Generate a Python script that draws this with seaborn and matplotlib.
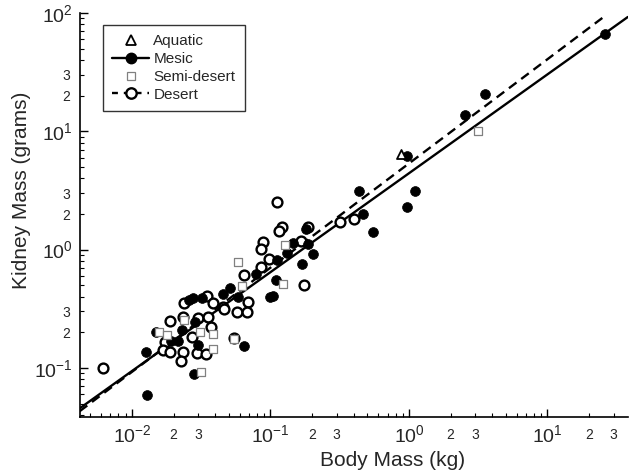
import numpy as np
import pandas as pd
import matplotlib
matplotlib.use("Agg")
import matplotlib.pyplot as plt
from matplotlib.lines import Line2D
from matplotlib import ticker
import seaborn as sns

# body mass (kg) / kidney mass (g)
mesic_body = [26.0, 3.54, 2.54, 0.962, 0.436, 1.10, 0.973, 0.468, 0.552,
              0.0126, 0.0128, 0.0148, 0.0644, 0.0301, 0.0260, 0.0274, 0.0318,
              0.0452, 0.0511, 0.0586, 0.0782, 0.0991, 0.1038, 0.110, 0.168,
              0.202, 0.146, 0.111, 0.131, 0.180, 0.187, 0.0285, 0.0229,
              0.0191, 0.0216, 0.0281]
mesic_kidney = [66.1, 20.7, 13.8, 6.22, 3.15, 3.15, 2.31, 1.99, 1.42,
                0.136, 0.0596, 0.201, 0.154, 0.156, 0.375, 0.388, 0.388,
                0.419, 0.471, 0.400, 0.618, 0.400, 0.405, 0.553, 0.751,
                0.912, 1.14, 0.817, 0.931, 1.48, 1.11, 0.246, 0.209,
                0.169, 0.170, 0.0888]

desert_body = [0.00614, 0.111, 0.1205, 0.115, 0.0887, 0.0849, 0.165, 0.187,
               0.0975, 0.0853, 0.0644, 0.175, 0.0346, 0.0239, 0.0386, 0.0452,
               0.0463, 0.0692, 0.0575, 0.0673, 0.0232, 0.0188, 0.0301, 0.0356,
               0.0372, 0.0270, 0.0173, 0.0168, 0.0188, 0.0232, 0.0225, 0.0293,
               0.0342, 0.0544, 0.401, 0.318]
desert_kidney = [0.1007, 2.54, 1.56, 1.44, 1.17, 1.01, 1.18, 1.54,
                 0.828, 0.717, 0.607, 0.502, 0.405, 0.356, 0.356, 0.329,
                 0.313, 0.363, 0.299, 0.299, 0.271, 0.251, 0.262, 0.271,
                 0.223, 0.184, 0.166, 0.142, 0.136, 0.137, 0.115, 0.1345,
                 0.130, 0.178, 1.81, 1.70]

semi_body = [3.13, 0.0586, 0.0619, 0.1236, 0.127, 0.0157, 0.0180, 0.0310,
             0.0383, 0.0386, 0.0237, 0.0315, 0.0544]
semi_kidney = [10.1, 0.790, 0.492, 0.512, 1.09, 0.202, 0.190, 0.202,
               0.192, 0.145, 0.254, 0.0918, 0.175]

aquatic_body = [0.875]
aquatic_kidney = [6.39]

# allometric fits: kidney = a * body ** b
mesic_fit = (4.42, 0.836)
desert_fit = (5.35, 0.881)
mesic_fit_ends = [0.0042, 38.0]
desert_fit_ends = [0.0042, 26.0]

x_major = [0.01, 0.1, 1, 10]
x_major_labels = ["$10^{-2}$", "$10^{-1}$", "$10^{0}$", "$10^{1}$"]
y_major = [0.1, 1, 10, 100]
y_major_labels = ["$10^{-1}$", "$10^{0}$", "$10^{1}$", "$10^{2}$"]


def minor_label(v, pos):
    m = int(round(v / 10 ** np.floor(np.log10(v) + 1e-9)))
    return str(m) if m in (2, 3) else ""


sns.set_style("ticks")
plt.rcParams["font.family"] = ["Liberation Sans", "DejaVu Sans"]
plt.rcParams["mathtext.fontset"] = "custom"
plt.rcParams["mathtext.rm"] = "Liberation Sans"
plt.rcParams["mathtext.it"] = "Liberation Sans"

fig, ax = plt.subplots(figsize=(6.31, 4.74), dpi=100)
fig.subplots_adjust(left=0.1268, right=0.9952, bottom=0.1203, top=0.9726)
ax.set_xscale("log")
ax.set_yscale("log")

for (a, b), ends, ls in [(mesic_fit, mesic_fit_ends, "-"),
                         (desert_fit, desert_fit_ends, (0, (4, 2.5)))]:
    xs = np.array(ends)
    line = pd.DataFrame({"x": xs, "y": a * xs ** b})
    sns.lineplot(data=line, x="x", y="y", ax=ax, color="black", lw=1.7,
                 linestyle=ls, legend=False, zorder=2)

desert = pd.DataFrame({"body": desert_body, "kidney": desert_kidney})
mesic = pd.DataFrame({"body": mesic_body, "kidney": mesic_kidney})
semi = pd.DataFrame({"body": semi_body, "kidney": semi_kidney})
aquatic = pd.DataFrame({"body": aquatic_body, "kidney": aquatic_kidney})

sns.scatterplot(data=desert, x="body", y="kidney", ax=ax, marker="o", s=50,
                facecolor="white", edgecolor="black", linewidth=1.7, zorder=3)
sns.scatterplot(data=mesic, x="body", y="kidney", ax=ax, marker="o", s=50,
                color="black", edgecolor="black", linewidth=0.5, zorder=4)
sns.scatterplot(data=semi, x="body", y="kidney", ax=ax, marker="s", s=36,
                facecolor="white", edgecolor="#808080", linewidth=0.9, zorder=5)
sns.scatterplot(data=aquatic, x="body", y="kidney", ax=ax, marker="^", s=42,
                facecolor="white", edgecolor="black", linewidth=1.3, zorder=5)

ax.set_xlim(0.00422, 38.1)
ax.set_ylim(0.0385, 100)

ax.xaxis.set_major_locator(ticker.FixedLocator(x_major))
ax.xaxis.set_major_formatter(ticker.FixedFormatter(x_major_labels))
ax.yaxis.set_major_locator(ticker.FixedLocator(y_major))
ax.yaxis.set_major_formatter(ticker.FixedFormatter(y_major_labels))

minor_x = [m * d for d in [0.001, 0.01, 0.1, 1, 10] for m in range(2, 10)]
minor_y = [m * d for d in [0.01, 0.1, 1, 10] for m in range(2, 10)]
ax.xaxis.set_minor_locator(ticker.FixedLocator(minor_x))
ax.yaxis.set_minor_locator(ticker.FixedLocator(minor_y))
ax.xaxis.set_minor_formatter(ticker.FuncFormatter(minor_label))
ax.yaxis.set_minor_formatter(ticker.FuncFormatter(minor_label))

ax.tick_params(which="major", direction="in", length=6, width=1,
               labelsize=14, color="black", pad=5)
ax.tick_params(which="minor", direction="in", length=3, width=0.8,
               labelsize=10, color="black", pad=8)
ax.tick_params(axis="y", which="minor", pad=7)

sns.despine(ax=ax)
for sp in ["left", "bottom"]:
    ax.spines[sp].set_linewidth(1.2)
    ax.spines[sp].set_color("black")

ax.set_xlabel("Body Mass (kg)", fontsize=15)
ax.set_ylabel("Kidney Mass (grams)", fontsize=15)
ax.xaxis.set_label_coords(0.571, -0.085)
ax.yaxis.set_label_coords(-0.09, 0.56)

handles = [
    Line2D([], [], color="none", marker="^", markersize=7,
           markerfacecolor="white", markeredgecolor="black", markeredgewidth=1.3),
    Line2D([], [], color="black", lw=1.7, marker="o", markersize=7.5,
           markerfacecolor="black", markeredgecolor="black"),
    Line2D([], [], color="none", marker="s", markersize=6,
           markerfacecolor="white", markeredgecolor="#808080", markeredgewidth=0.9),
    Line2D([], [], color="black", lw=1.7, linestyle=(0, (2.5, 2.5)), marker="o",
           markersize=7.5, markerfacecolor="white", markeredgecolor="black",
           markeredgewidth=1.7),
]
leg = ax.legend(handles, ["Aquatic", "Mesic", "Semi-desert", "Desert"],
                loc="upper left", bbox_to_anchor=(0.042, 0.97), borderaxespad=0,
                fontsize=11, frameon=True, fancybox=False, handlelength=2.4,
                handletextpad=0.3, labelspacing=0.25, borderpad=0.6)
leg.get_frame().set_edgecolor("black")
leg.get_frame().set_linewidth(1.0)

fig.savefig("out.png", dpi=100)
